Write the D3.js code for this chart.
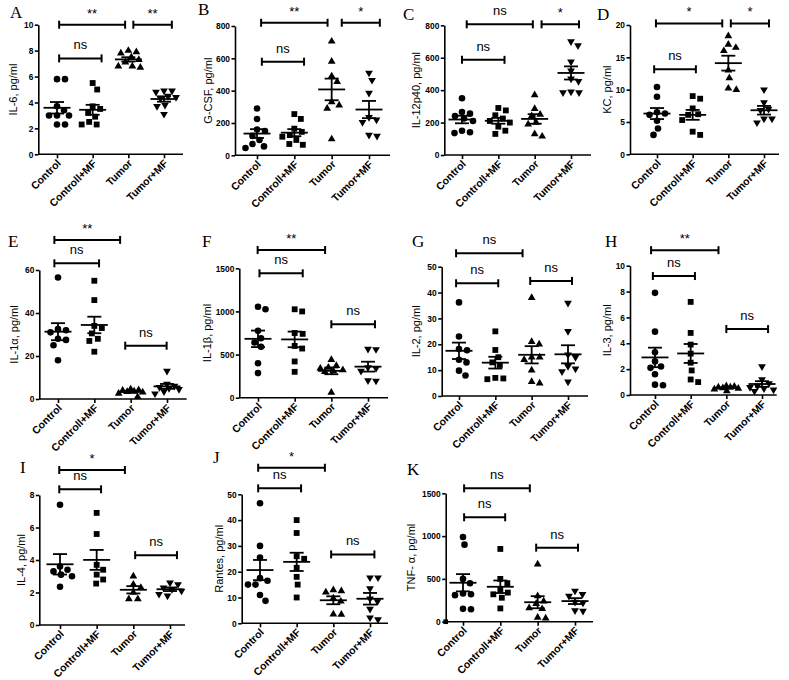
<!DOCTYPE html>
<html><head><meta charset="utf-8">
<script src="https://cdn.jsdelivr.net/npm/d3@7"></script>
<style>body{margin:0;background:#fff}svg{display:block}</style>
</head><body><svg id="c" width="789" height="680"></svg>
<script>
const categories = ["Control","Controll+MF","Tumor","Tumor+MF"];
const panelLetters = ["A","B","C","D","E","F","G","H","I","J","K"];
const yTitles = ["IL-6, pg/ml","G-CSF, pg/ml","IL-12p40, pg/ml","KC, pg/ml","IL-1\u03b1, pg/ml","IL-1\u03b2, pg/ml","IL-2, pg/ml","IL-3, pg/ml","IL-4, pg/ml","Rantes, pg/ml","TNF- \u03b1, pg/ml"];
const yTicks = [
  [0,2,4,6,8,10],[0,200,400,600,800],[0,200,400,600,800],[0,5,10,15,20],
  [0,20,40,60],[0,500,1000,1500],[0,10,20,30,40,50],[0,2,4,6,8,10],
  [0,2,4,6,8],[0,10,20,30,40,50],[0,500,1000,1500]
];

// values per group: Control, Controll+MF, Tumor, Tumor+MF
const il6 = [[5.8,5.8,3.7,3.4,3.0,3.0,3.0,2.3,2.3],[5.5,5.0,3.7,3.5,3.2,2.9,2.5,2.3,2.3],[8.0,7.9,7.8,7.5,7.3,7.1,6.8,6.8,6.7],[4.9,4.9,4.8,4.5,4.4,4.3,3.8,3.7,3.1]];
const gcsf = [[290,225,160,150,120,95,70,55,45],[255,225,165,145,125,115,95,70,65],[705,580,490,455,330,310,290,100],[510,465,385,235,220,205,125,120]];
const il12p40 = [[350,265,255,240,225,210,150,140,135],[290,275,245,225,210,200,175,150,130],[370,285,250,240,200,190,130,115],[700,675,575,520,470,455,390,385,385]];
const kc = [[10.4,8.9,6.5,6.3,6.1,5.2,4.0,3.0],[9.0,8.6,7.1,6.2,6.1,5.3,3.5,3.0],[18.3,17.0,16.5,16.0,13.0,11.8,10.2,10.0],[10.0,8.0,7.0,6.8,5.5,5.5,4.9]];
const il1a = [[56.5,32.5,32,31,28,27.5,25,18],[55,46,34,33,30.5,28,27,22],[4.6,4.2,4.0,3.6,3.4,3.1,2.6,1.0],[13,7,6,5.5,5,4.5,3.5,2.5]];
const il1b = [[1055,1025,775,690,640,590,400,285],[1025,1000,750,740,600,570,420,300],[440,370,350,340,320,310,300,60],[565,560,350,340,310,200,195]];
const il2 = [[36.2,23,18.2,17.7,14,13,9.8,7.9],[25,17.8,15,13,12,7,6.8,6.5],[38,21,20,15,15,14,10,5.5,4.9],[36,25,16,15,11.5,10.5,9.5,5.5]];
const il3 = [[7.9,4.9,3.3,2.6,2.2,2.1,1.6,0.8,0.75],[7.2,4.8,3.9,3.2,2.5,1.9,1.2,1.0],[0.7,0.65,0.6,0.6,0.55,0.5,0.45,0.3],[2.2,1.2,0.9,0.7,0.6,0.5,0.4,0.3]];
const il4 = [[7.4,3.6,3.4,3.3,3.1,3.0,2.35],[6.9,5.6,3.7,3.4,3.1,2.8,2.55],[3.0,2.5,2.3,2.0,1.6,1.6],[2.6,2.5,2.3,2.2,2.1,1.9,1.8]];
const rantes = [[46.5,30,25.5,17.5,16.5,15,15,11,8.7],[40,35,26,25,21.5,18,15,10],[12.9,12.5,12,9.7,8.5,3.5,3.4],[17.7,17.7,13.5,9.5,8.5,5.5,2.2,1.5]];
const tnfa = [[990,900,500,450,330,320,310,150,145],[850,500,450,370,340,320,280,155],[670,300,240,210,160,150,50,40],[360,320,300,230,220,130,125]];

// significance brackets: group index span, level (data units), label
const sigA = [{from:0.06,to:1.91,y:10,label:"**"},{from:2.14,to:3.22,y:10,label:"**"},{from:0.06,to:1.25,y:7.4,label:"ns"}];
const sigB = [{from:0.11,to:1.89,y:820,label:"**"},{from:2.27,to:3.29,y:820,label:"*"},{from:0.13,to:1.26,y:579,label:"ns"}];
const sigC = [{from:0.13,to:1.95,y:806,label:"ns"},{from:2.19,to:3.22,y:806,label:"*"},{from:0,to:1.17,y:587,label:"ns"}];
const sigD = [{from:-0.03,to:1.83,y:20.25,label:"*"},{from:2.07,to:3.14,y:20.25,label:"*"},{from:-0.08,to:1.09,y:13.15,label:"ns"}];
const sigE = [{from:-0.1,to:1.71,y:74,label:"**"},{from:-0.1,to:1.13,y:63.1,label:"ns"},{from:1.85,to:2.99,y:24.8,label:"ns"}];
const sigF = [{from:-0.01,to:1.83,y:1712,label:"**"},{from:0.04,to:1.22,y:1442,label:"ns"},{from:2.0,to:3.19,y:851,label:"ns"}];
const sigG = [{from:-0.08,to:1.75,y:55.2,label:"ns"},{from:-0.08,to:1.08,y:43.6,label:"ns"},{from:1.96,to:3.11,y:44.5,label:"ns"}];
const sigH = [{from:-0.11,to:1.78,y:11.2,label:"**"},{from:-0.06,to:1.12,y:9.2,label:"ns"},{from:2.0,to:3.17,y:5.1,label:"ns"}];
const sigI = [{from:-0.02,to:1.77,y:9.54,label:"*"},{from:-0.02,to:1.12,y:8.35,label:"ns"},{from:2.05,to:3.19,y:4.3,label:"ns"}];
const sigJ = [{from:-0.05,to:1.77,y:60.3,label:"*"},{from:-0.05,to:1.12,y:52.3,label:"ns"},{from:1.94,to:3.12,y:26.7,label:"ns"}];
const sigK = [{from:0.03,to:1.79,y:1558,label:"ns"},{from:0.03,to:1.13,y:1220,label:"ns"},{from:1.96,to:3.08,y:865,label:"ns"}];

const panelValues = [il6,gcsf,il12p40,kc,il1a,il1b,il2,il3,il4,rantes,tnfa];
const panelSig = [sigA,sigB,sigC,sigD,sigE,sigF,sigG,sigH,sigI,sigJ,sigK];

// layout (pixels)
const layout = [
 {ax:38.3, ae:183, yt:24.7, yb:154.3, c0:57, c3:164, lx:13.3, px:10, py:18.3},
 {ax:235, ae:390, yt:26, yb:155.3, c0:257, c3:369, lx:215, px:198, py:15},
 {ax:444.3, ae:591, yt:25.3, yb:155, c0:462, c3:571, lx:415.7, px:403, py:20},
 {ax:630, ae:779, yt:25, yb:154.3, c0:657, c3:764, lx:612, px:597, py:20},
 {ax:39.3, ae:186.7, yt:270, yb:399, c0:58, c3:167, lx:14, px:8, py:246.7},
 {ax:239.3, ae:388, yt:268.3, yb:397.7, c0:258, c3:368, lx:208.3, px:202, py:246.7},
 {ax:441.7, ae:588, yt:266.7, yb:396, c0:459, c3:568, lx:415.7, px:412, py:246.7},
 {ax:630, ae:776.7, yt:265.7, yb:395, c0:655, c3:762, lx:612, px:605, py:246.7},
 {ax:39.3, ae:185, yt:495, yb:625, c0:60, c3:170, lx:22, px:20, py:473},
 {ax:241.7, ae:388, yt:494.3, yb:623.3, c0:260, c3:370, lx:220, px:213, py:463},
 {ax:445.7, ae:593, yt:493.3, yb:621.7, c0:463, c3:575, lx:411, px:407, py:475}
];

const svg = d3.select("#c");
const SANS = "'Liberation Sans', Arial, sans-serif";
const symbols = [
  d3.symbol().type(d3.symbolCircle).size(34),
  d3.symbol().type(d3.symbolSquare).size(34),
  d3.symbol().type(d3.symbolTriangle).size(26),
  d3.symbol().type(d3.symbolTriangle).size(26)
];
const symRot = [0,0,0,180];

// deterministic swarm: nearest free horizontal slot within +/- maxW
function swarm(vals, y, D, maxW) {
  const sorted = vals.slice().sort((a,b)=>b-a);
  const cands = d3.range(-maxW, maxW + 0.01, 0.5).sort((a,b)=>Math.abs(a)-Math.abs(b) || b-a);
  const placed = [];
  sorted.forEach(v => {
    const py = y(v);
    let best = null, bestD = -1;
    for (const c of cands) {
      const md = placed.length ? d3.min(placed, p => Math.hypot(c-p.dx, py-p.py)) : Infinity;
      if (md >= D) { best = c; bestD = md; break; }
      if (md > bestD + 0.3) { bestD = md; best = c; }
    }
    placed.push({v, py, dx: best});
  });
  return placed;
}

panelValues.forEach((groups, pi) => {
  const L = layout[pi];
  const ticks = yTicks[pi];
  const g = svg.append("g");
  const y = d3.scaleLinear().domain([0, d3.max(ticks)]).range([L.yb, L.yt]);
  const xc = d3.scalePoint().domain(categories).range([L.c0, L.c3]);
  const xi = d3.scaleLinear().domain([0,3]).range([L.c0, L.c3]);

  // y axis
  const ya = g.append("g").attr("transform", `translate(${L.ax},0)`)
    .call(d3.axisLeft(y).tickValues(ticks).tickSize(3.5).tickSizeOuter(0).tickPadding(1.5).tickFormat(d3.format("d")));
  ya.selectAll("path,line").attr("stroke","#000").attr("stroke-width",1.6);
  ya.selectAll("text").attr("font-family",SANS).attr("font-weight","bold").attr("font-size",8.4).attr("fill","#000");
  let tickLeft = Infinity;
  ya.selectAll("text").each(function(){ const b = this.getBBox(); tickLeft = Math.min(tickLeft, L.ax - 5 - b.width); });

  // x axis
  const xa = g.append("g").attr("transform", `translate(0,${L.yb})`)
    .call(d3.axisBottom(xc).tickSize(4).tickSizeOuter(0).tickFormat(""));
  xa.select(".domain").remove();
  xa.selectAll("line").attr("stroke","#000").attr("stroke-width",1.6);
  g.append("line").attr("x1",L.ax).attr("x2",L.ae).attr("y1",L.yb).attr("y2",L.yb)
    .attr("stroke","#000").attr("stroke-width",1.6);
  g.selectAll(".xl").data(categories).join("text")
    .attr("transform", d => `translate(${xc(d)+2},${L.yb+7}) rotate(-45)`)
    .attr("text-anchor","end").attr("dy","0.35em")
    .attr("font-family",SANS).attr("font-weight","bold").attr("font-size",10.5)
    .text(d => d);

  // y title (kept clear of tick labels)
  const tx = Math.min(L.lx, tickLeft - 8);
  g.append("text")
    .attr("transform", `translate(${tx},${(L.yt+L.yb)/2}) rotate(-90)`)
    .attr("text-anchor","middle").attr("dy","0.35em")
    .attr("font-family",SANS).attr("font-size",11).text(yTitles[pi]);

  // panel letter
  g.append("text").attr("x",L.px).attr("y",L.py)
    .attr("font-family","'Liberation Serif', 'Times New Roman', serif").attr("font-size",17)
    .text(panelLetters[pi]);

  // points, mean and SEM
  groups.forEach((vals, gi) => {
    const cx = xc(categories[gi]);
    const pts = swarm(vals, y, 7.8, 12);
    g.selectAll(null).data(pts).join("path")
      .attr("d", symbols[gi]())
      .attr("transform", d => `translate(${cx+d.dx},${d.py}) rotate(${symRot[gi]})`)
      .attr("fill","#000");
    const m = d3.mean(vals);
    const sem = d3.deviation(vals) / Math.sqrt(vals.length);
    const eg = g.append("g").attr("stroke","#000").attr("stroke-width",1.8);
    eg.append("line").attr("x1",cx-13.5).attr("x2",cx+13.5).attr("y1",y(m)).attr("y2",y(m));
    eg.append("line").attr("x1",cx).attr("x2",cx).attr("y1",y(m+sem)).attr("y2",y(m-sem));
    eg.append("line").attr("x1",cx-7).attr("x2",cx+7).attr("y1",y(m+sem)).attr("y2",y(m+sem));
    eg.append("line").attr("x1",cx-7).attr("x2",cx+7).attr("y1",y(m-sem)).attr("y2",y(m-sem));
  });

  if (pi === 10) {
    g.append("path").attr("d", d3.symbol().type(d3.symbolSquare).size(22)())
      .attr("transform", `translate(${L.ax},${y(0)})`).attr("fill","#000");
  }

  // brackets
  panelSig[pi].forEach(s => {
    const x1 = xi(s.from), x2 = xi(s.to), yy = y(s.y);
    const bg = g.append("g").attr("stroke","#000").attr("stroke-width",2);
    bg.append("line").attr("x1",x1).attr("x2",x2).attr("y1",yy).attr("y2",yy);
    bg.append("line").attr("x1",x1).attr("x2",x1).attr("y1",yy-4).attr("y2",yy+4);
    bg.append("line").attr("x1",x2).attr("x2",x2).attr("y1",yy-4).attr("y2",yy+4);
    g.append("text").attr("x",(x1+x2)/2).attr("y", yy - (s.label==="ns" ? 9 : 7))
      .attr("text-anchor","middle").attr("font-family",SANS).attr("font-size",13)
      .text(s.label);
  });
});
</script></body></html>
